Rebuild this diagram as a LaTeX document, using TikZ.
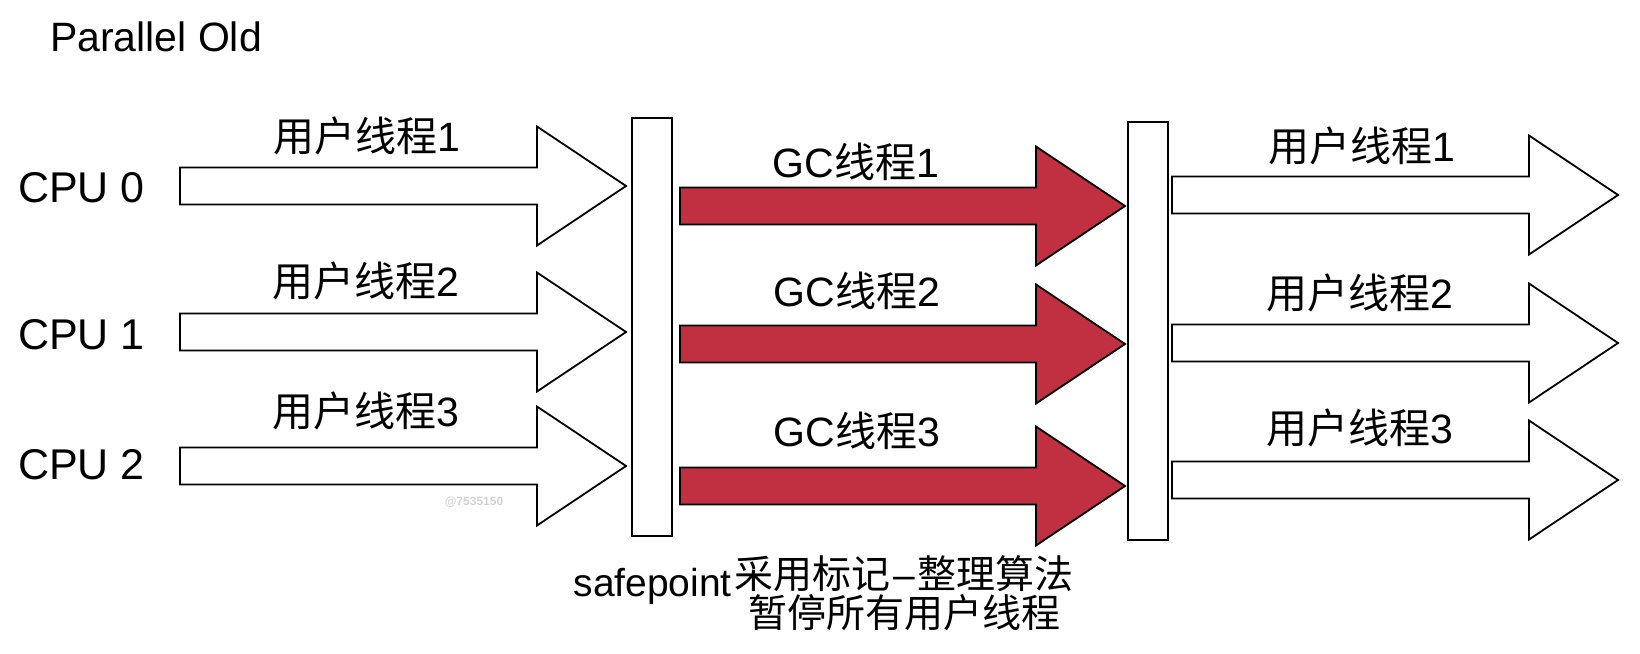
\documentclass[tikz,border=0pt]{standalone}
\usepackage{fontspec}
\setmainfont{Liberation Sans}
\newfontfamily\cjk{Noto Sans CJK SC}
\usepackage{tikz}
\usetikzlibrary{positioning}
\definecolor{gcred}{RGB}{193,48,65}

% fat arrow: [style]{tail x}{head base x}{tip x}{centre y}
\newcommand{\fatarrow}[5][]{%
  \draw[arrowbody,#1] (#2,#5-18.5) -- (#3,#5-18.5) -- (#3,#5-59.5) -- (#4,#5)
    -- (#3,#5+59.5) -- (#3,#5+18.5) -- (#2,#5+18.5) -- cycle;}

\begin{document}
\begin{tikzpicture}[x=1pt, y=-1pt,
    arrowbody/.style={draw=black, line width=1.8pt, fill=white, line join=miter},
    gcarrow/.style={fill=gcred},
    barrier/.style={draw, line width=1.8pt, fill=white, minimum width=40pt,
      minimum height=418pt, inner sep=0pt},
    lbl/.style={font=\fontsize{41pt}{49pt}\selectfont, inner sep=0pt},
    cpulbl/.style={font=\fontsize{43pt}{50pt}\selectfont, inner sep=0pt, anchor=west},
    note/.style={font=\fontsize{39pt}{39pt}\selectfont, inner sep=0pt}
  ]
  \useasboundingbox (0,0) rectangle (1640,653);

  \node[lbl] (title) at (156,37) {Parallel Old};

  % safepoints
  \node[barrier] (sp1) at (652,327) {};
  \node[barrier] (sp2) at (1148,331) {};

  % user threads before the pause
  \fatarrow{180}{537}{626}{186}
  \fatarrow{180}{537}{626}{332}
  \fatarrow{180}{537}{626}{466}
  % gc threads
  \fatarrow[gcarrow]{680}{1036}{1125}{206}
  \fatarrow[gcarrow]{680}{1036}{1125}{344}
  \fatarrow[gcarrow]{680}{1036}{1125}{486}
  % user threads after the pause
  \fatarrow{1172}{1529}{1618}{195}
  \fatarrow{1172}{1529}{1618}{343}
  \fatarrow{1172}{1529}{1618}{480}

  \node[cpulbl] (cpu0) at (18,188) {CPU 0};
  \node[cpulbl] (cpu1) at (18,335) {CPU 1};
  \node[cpulbl] (cpu2) at (18,465) {CPU 2};

  \node[lbl] (ua1) at (367,136) {{\cjk 用户线程}1};
  \node[lbl] (ua2) at (366,281) {{\cjk 用户线程}2};
  \node[lbl] (ua3) at (366,411) {{\cjk 用户线程}3};

  \node[lbl] (gc1) at (856,162) {GC{\cjk 线程}1};
  \node[lbl] (gc2) at (857,291) {GC{\cjk 线程}2};
  \node[lbl] (gc3) at (857,431) {GC{\cjk 线程}3};

  \node[lbl] (ub1) at (1362,146) {{\cjk 用户线程}1};
  \node[lbl] (ub2) at (1360,293) {{\cjk 用户线程}2};
  \node[lbl] (ub3) at (1360,428) {{\cjk 用户线程}3};

  \node[note, align=center] (pause) at (904,593)
    {{\cjk 采用标记}\hspace{3pt}--\hspace{3pt}{\cjk 整理算法}\\{\cjk 暂停所有用户线程}};
  \node[note, anchor=base east] (safe) at (732,596) {safepoint};

  \node[font=\fontsize{12pt}{14pt}\selectfont\bfseries, text=gray!35] (wm) at (474,502) {@7535150};
\end{tikzpicture}
\end{document}
